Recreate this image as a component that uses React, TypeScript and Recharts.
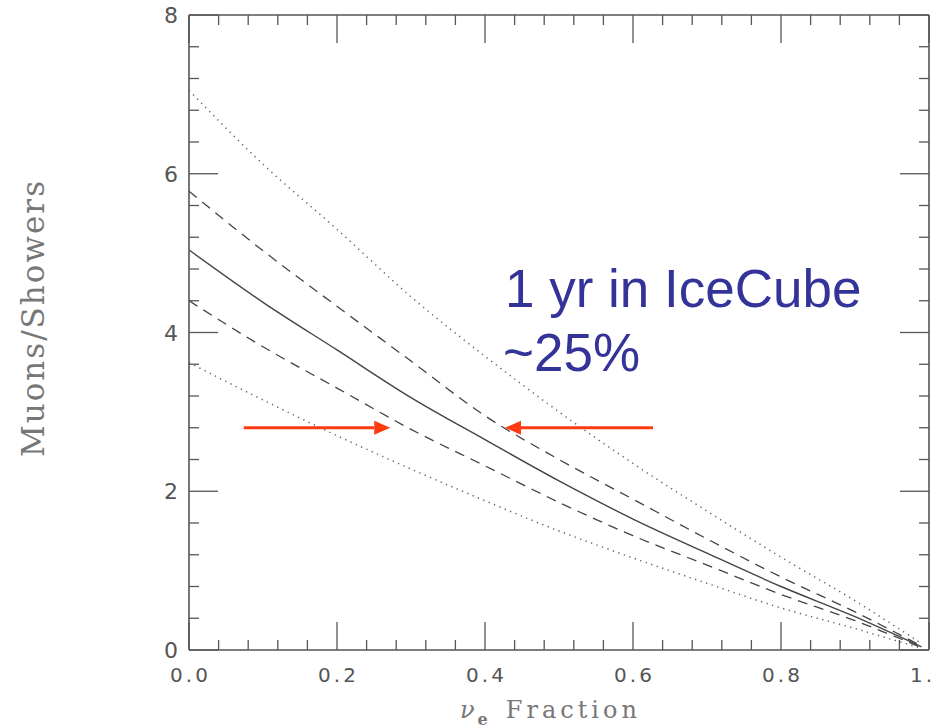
import { LineChart, Line, XAxis, YAxis, ReferenceLine } from 'recharts';

// nu_e fraction on x, muon/shower ratio on y
const fractions = [0, 0.1, 0.2, 0.3, 0.4, 0.5, 0.6, 0.7, 0.8, 0.9, 0.99];
const central = [5.04, 4.38, 3.78, 3.18, 2.65, 2.13, 1.65, 1.22, 0.8, 0.42, 0.04];
const upperDashed = [5.78, 5.03, 4.33, 3.64, 2.95, 2.4, 1.9, 1.4, 0.92, 0.48, 0.05];
const lowerDashed = [4.4, 3.82, 3.3, 2.78, 2.32, 1.86, 1.44, 1.07, 0.7, 0.37, 0.03];
const upperDotted = [7.05, 6.12, 5.3, 4.45, 3.7, 3.0, 2.35, 1.75, 1.17, 0.62, 0.08];
const lowerDotted = [3.62, 3.15, 2.7, 2.28, 1.88, 1.5, 1.16, 0.84, 0.53, 0.27, 0.02];

const xTicks = Array.from({ length: 26 }, (_, i) => +(i * 0.04).toFixed(2));
const yTicks = Array.from({ length: 21 }, (_, i) => +(i * 0.4).toFixed(1));

// arrows at the 2.8 level pointing at the dashed band
const arrowY = 2.8;
const leftArrow = [0.074, 0.272];
const rightArrow = [0.627, 0.427];

const data = fractions.map((f, i) => ({
  f,
  central: central[i],
  upperDashed: upperDashed[i],
  lowerDashed: lowerDashed[i],
  upperDotted: upperDotted[i],
  lowerDotted: lowerDotted[i],
}));

const AXIS = '#555';
const isMajorX = (v: number) => Math.abs(v * 5 - Math.round(v * 5)) < 1e-6;
const isMajorY = (v: number) => Math.abs(v / 2 - Math.round(v / 2)) < 1e-6;

const BottomTick = ({ x, y, payload }: any) => {
  const major = isMajorX(payload.value);
  return (
    <g>
      <line x1={x} y1={y} x2={x} y2={y - (major ? 28 : 10)} stroke={AXIS} strokeWidth={1.3} />
      {major && (
        <text x={x + 1.5} y={y + 32} textAnchor="middle" fontSize={20} letterSpacing={3} fill="#555" fontFamily="DejaVu Sans">
          {payload.value.toFixed(1)}
        </text>
      )}
    </g>
  );
};

const TopTick = ({ x, y, payload }: any) => {
  const major = isMajorX(payload.value);
  return <line x1={x} y1={y} x2={x} y2={y + (major ? 28 : 10)} stroke={AXIS} strokeWidth={1.3} />;
};

const LeftTick = ({ x, y, payload }: any) => {
  const major = isMajorY(payload.value);
  return (
    <g>
      <line x1={x} y1={y} x2={x + (major ? 29 : 10)} y2={y} stroke={AXIS} strokeWidth={1.3} />
      {major && (
        <text x={x - 11} y={y + 8} textAnchor="end" fontSize={22} fill="#555" fontFamily="DejaVu Sans">
          {payload.value}
        </text>
      )}
    </g>
  );
};

const RightTick = ({ x, y, payload }: any) => {
  const major = isMajorY(payload.value);
  return <line x1={x} y1={y} x2={x - (major ? 29 : 10)} y2={y} stroke={AXIS} strokeWidth={1.3} />;
};

const Arrow = (props: any) => {
  const { x1, y1, x2, y2 } = props;
  const dir = x2 > x1 ? 1 : -1;
  const head = 16;
  return (
    <g>
      <line x1={x1} y1={y1} x2={x2 - dir * head} y2={y2} stroke="#ff3a10" strokeWidth={3.2} />
      <polygon
        points={`${x2},${y2} ${x2 - dir * head},${y2 - 7} ${x2 - dir * head},${y2 + 7}`}
        fill="#ff3a10"
      />
    </g>
  );
};

export default function App() {
  return (
    <div style={{ position: 'absolute', left: 0, top: 0, width: 936, height: 728, background: '#fff', overflow: 'hidden' }}>
      <LineChart width={936} height={728} data={data} margin={{ top: 13, right: 5, bottom: 48, left: 149 }}>
        <XAxis
          dataKey="f"
          type="number"
          domain={[0, 1]}
          ticks={xTicks}
          interval={0}
          height={30}
          tickSize={0}
          tickMargin={0}
          tickLine={false}
          tick={<BottomTick />}
          axisLine={{ stroke: AXIS, strokeWidth: 1.6 }}
        />
        <XAxis
          xAxisId="top"
          dataKey="f"
          orientation="top"
          type="number"
          domain={[0, 1]}
          ticks={xTicks}
          interval={0}
          height={2}
          tickSize={0}
          tickMargin={0}
          tickLine={false}
          tick={<TopTick />}
          axisLine={{ stroke: AXIS, strokeWidth: 1.6 }}
        />
        <YAxis
          type="number"
          domain={[0, 8]}
          ticks={yTicks}
          interval={0}
          width={40}
          tickSize={0}
          tickMargin={0}
          tickLine={false}
          tick={<LeftTick />}
          axisLine={{ stroke: AXIS, strokeWidth: 1.6 }}
        />
        <YAxis
          yAxisId="right"
          orientation="right"
          type="number"
          domain={[0, 8]}
          ticks={yTicks}
          interval={0}
          width={2}
          tickSize={0}
          tickMargin={0}
          tickLine={false}
          tick={<RightTick />}
          axisLine={{ stroke: AXIS, strokeWidth: 1.6 }}
        />
        <Line type="monotone" dataKey="upperDotted" stroke="#666" strokeWidth={1.5} strokeDasharray="1.3 4.5" dot={false} isAnimationActive={false} />
        <Line type="monotone" dataKey="lowerDotted" stroke="#666" strokeWidth={1.5} strokeDasharray="1.3 4.5" dot={false} isAnimationActive={false} />
        <Line type="monotone" dataKey="upperDashed" stroke="#444" strokeWidth={1.3} strokeDasharray="10 7" dot={false} isAnimationActive={false} />
        <Line type="monotone" dataKey="lowerDashed" stroke="#444" strokeWidth={1.3} strokeDasharray="10 7" dot={false} isAnimationActive={false} />
        {/* central curve sits on the mirrored axes (same domains) so the frame gets drawn */}
        <Line xAxisId="top" yAxisId="right" type="monotone" dataKey="central" stroke="#444" strokeWidth={1.4} dot={false} isAnimationActive={false} />
        <ReferenceLine
          segment={[{ x: leftArrow[0], y: arrowY }, { x: leftArrow[1], y: arrowY }]}
          shape={<Arrow />}
        />
        <ReferenceLine
          segment={[{ x: rightArrow[0], y: arrowY }, { x: rightArrow[1], y: arrowY }]}
          shape={<Arrow />}
        />
      </LineChart>
      <svg width={936} height={728} style={{ position: 'absolute', left: 0, top: 0, pointerEvents: 'none' }}>
        <text x={505} y={307} fontFamily="Liberation Sans" fontSize={53} fill="#333399">
          1 yr in IceCube
        </text>
        <text x={503} y={371} fontFamily="Liberation Sans" fontSize={53} fill="#333399">
          ~25%
        </text>
        <text
          x={44}
          y={318}
          transform="rotate(-90 44 318)"
          textAnchor="middle"
          fontFamily="DejaVu Serif"
          fontSize={31}
          letterSpacing={2}
          fill="#777"
        >
          Muons/Showers
        </text>
        <text x={460} y={718} fontFamily="DejaVu Serif" fontSize={24} letterSpacing={4} fill="#777">
          <tspan fontStyle="italic">ν</tspan>
          <tspan fontSize={16} dy={7} dx={-1} fontWeight="bold" letterSpacing={0}>e</tspan>
          <tspan dy={-7} dx={18}>Fraction</tspan>
        </text>
      </svg>
    </div>
  );
}
